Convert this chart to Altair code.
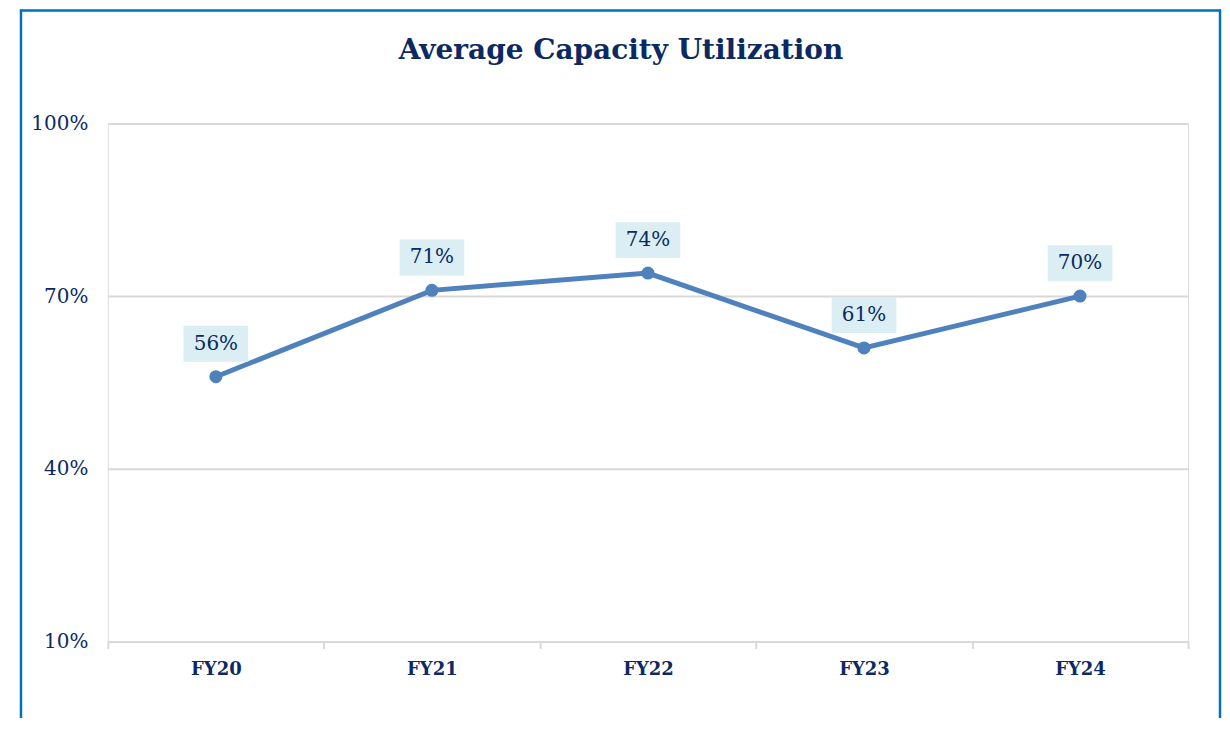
import altair as alt
import pandas as pd

years = ["FY20", "FY21", "FY22", "FY23", "FY24"]
utilization = [56, 71, 74, 61, 70]
labels = ["56%", "71%", "74%", "61%", "70%"]
y_ticks = [10, 40, 70, 100]

df = pd.DataFrame({"year": years, "value": utilization, "label": labels})

NAVY = "#0B2A63"
LINE = "#4F81BD"
FONT = "DejaVu Serif"

x_enc = alt.X(
    "year:N",
    sort=years,
    bandPosition=0.5,
    scale=alt.Scale(type="band", paddingInner=0, paddingOuter=0),
    axis=alt.Axis(
        title=None, labelAngle=0, tickBand="extent", grid=False,
        domainColor="#D9D9D9", domainWidth=2, tickColor="#D9D9D9", tickWidth=2,
        tickSize=7, labelFont=FONT, labelFontSize=18, labelFontWeight="bold",
        labelColor=NAVY, labelPadding=12,
    ),
)
y_enc = alt.Y(
    "value:Q",
    scale=alt.Scale(domain=[10, 100], nice=False, zero=False),
    axis=alt.Axis(
        title=None, values=y_ticks, domain=False, ticks=False,
        labelExpr="datum.value + '%'", labelFont=FONT, labelFontSize=20,
        labelColor=NAVY, labelPadding=20, gridColor="#D9D9D9", gridWidth=2,
    ),
)

base = alt.Chart(df)

line = base.mark_line(color=LINE, strokeWidth=5).encode(x=x_enc, y=y_enc)
pts = base.mark_point(filled=True, color=LINE, size=170, opacity=1).encode(x=x_enc, y=y_enc)
box_shape = "M-1.8,-1 L1.8,-1 L1.8,1 L-1.8,1 Z"
boxes = base.mark_point(
    shape=box_shape, filled=True, color="#DAEEF3", size=1296, opacity=1,
    strokeWidth=0, yOffset=-33,
).encode(x=x_enc, y=y_enc)
texts = base.mark_text(
    font=FONT, fontSize=20, color=NAVY, yOffset=-33, baseline="middle", align="center",
).encode(x=x_enc, y=y_enc, text="label:N")

frame_df = pd.DataFrame({"a": [0]})
BORDER = "#0070C0"
left_edge = alt.Chart(frame_df).mark_rule(color=BORDER, strokeWidth=2.5).encode(
    x=alt.value(-87), y=alt.value(-114), y2=alt.value(640)
)
right_edge = alt.Chart(frame_df).mark_rule(color=BORDER, strokeWidth=2.5).encode(
    x=alt.value(1114), y=alt.value(-114), y2=alt.value(640)
)
top_edge = alt.Chart(frame_df).mark_rule(color=BORDER, strokeWidth=2.5).encode(
    x=alt.value(-88), x2=alt.value(1115), y=alt.value(-113)
)

chart = alt.layer(left_edge, right_edge, top_edge, line, boxes, texts, pts).properties(
    width=1082,
    height=519,
    padding={"left": 100, "top": 115, "right": 34, "bottom": 76},
    autosize=alt.AutoSizeParams(type="none"),
    title=alt.TitleParams(
        "Average Capacity Utilization", font=FONT, fontSize=28, fontWeight="bold",
        color=NAVY, anchor="middle", frame="group", dx=-27, offset=-79,
        baseline="alphabetic",
    ),
).configure_view(stroke=None).configure(background="white")

chart.save("out.html", embed_options={"renderer": "svg", "actions": False})
